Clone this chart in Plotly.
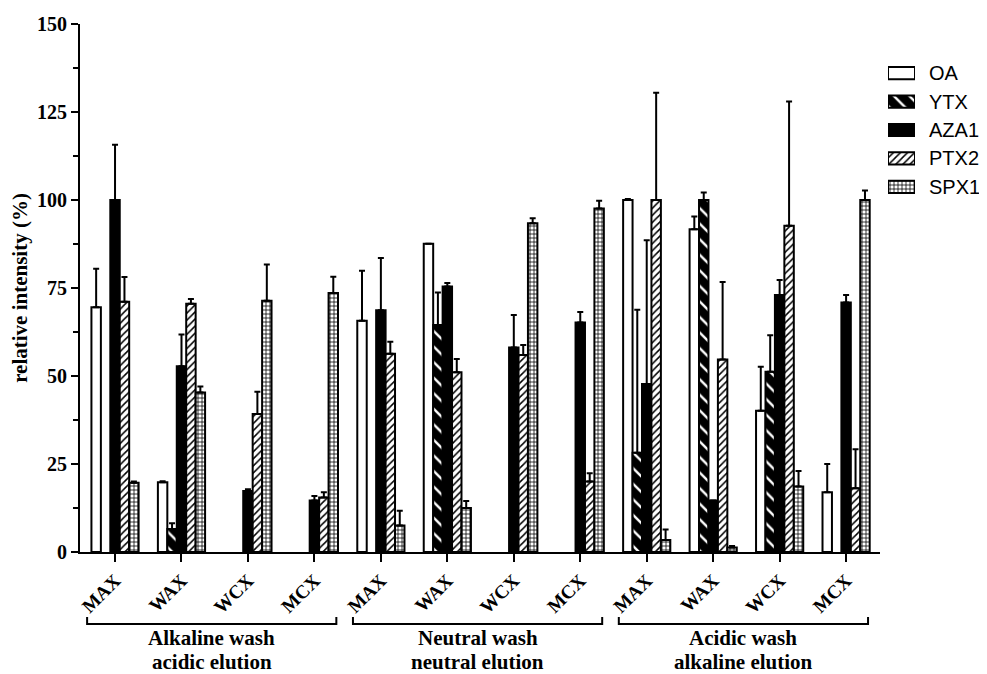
import plotly.graph_objects as go

# ---------------- data ----------------
sorbents = ["MAX", "WAX", "WCX", "MCX", "MAX", "WAX", "WCX", "MCX", "MAX", "WAX", "WCX", "MCX"]
conditions = [["Alkaline wash", "acidic elution"],
              ["Neutral wash", "neutral elution"],
              ["Acidic wash", "alkaline elution"]]
series_names = ["OA", "YTX", "AZA1", "PTX2", "SPX1"]

OA = [69.5, 19.8, None, None, 65.7, 87.6, None, None, 100.0, 91.7, 40.1, 17.0]
OA_err = [11.0, 0.3, 0, 0, 14.2, 0.0, 0, 0, 0.3, 3.6, 12.5, 8.0]
YTX = [None, 6.5, None, None, None, 64.5, None, None, 28.2, 100.0, 51.2, None]
YTX_err = [0, 1.7, 0, 0, 0, 9.2, 0, 0, 40.6, 2.1, 10.4, 0]
AZA1 = [100.0, 52.8, 17.3, 14.6, 68.7, 75.4, 58.1, 65.2, 47.7, 14.6, 73.0, 70.9]
AZA1_err = [15.7, 9.0, 0.5, 1.3, 14.8, 1.0, 9.2, 3.0, 40.9, 0.0, 4.3, 2.1]
PTX2 = [71.1, 70.5, 39.2, 15.5, 56.3, 51.1, 56.0, 20.0, 100.0, 54.7, 92.7, 18.1]
PTX2_err = [7.0, 1.4, 6.3, 1.5, 3.4, 3.7, 2.8, 2.4, 30.5, 22.0, 35.3, 11.1]
SPX1 = [19.7, 45.3, 71.4, 73.6, 7.5, 12.5, 93.4, 97.6, 3.4, 1.3, 18.6, 100.0]
SPX1_err = [0.3, 1.7, 10.3, 4.6, 4.2, 2.0, 1.4, 2.2, 3.0, 0.4, 4.4, 2.7]

y_ticks = [0, 25, 50, 75, 100, 125, 150]

# ---------------- styles ----------------
SERIF = "Liberation Serif"
SANS = "Liberation Sans"

styles = {
    "OA": dict(color="white", line=dict(color="black", width=2)),
    "YTX": dict(color="black", line=dict(color="black", width=2),
                pattern=dict(shape="\\", fgcolor="white", bgcolor="black", size=11, solidity=0.22, fillmode="replace")),
    "AZA1": dict(color="black", line=dict(color="black", width=2)),
    "PTX2": dict(color="white", line=dict(color="black", width=2),
                 pattern=dict(shape="/", fgcolor="black", bgcolor="white", size=5, solidity=0.3, fillmode="replace")),
    "SPX1": dict(color="white", line=dict(color="black", width=2),
                 pattern=dict(shape="+", fgcolor="black", bgcolor="white", size=4, solidity=0.35, fillmode="replace")),
}

values = {"OA": (OA, OA_err), "YTX": (YTX, YTX_err), "AZA1": (AZA1, AZA1_err),
          "PTX2": (PTX2, PTX2_err), "SPX1": (SPX1, SPX1_err)}

xpos = list(range(len(sorbents)))

fig = go.Figure()
for name in series_names:
    vals, errs = values[name]
    fig.add_trace(go.Bar(
        x=xpos, y=vals, name=name, marker=styles[name],
        error_y=dict(type="data", array=errs, arrayminus=[0] * len(errs), symmetric=False,
                     color="black", thickness=2, width=3),
        showlegend=False,
    ))

# legend swatches drawn as bars on a small hidden axis pair
for name in series_names:
    fig.add_trace(go.Bar(
        x=[1], y=[name], orientation="h", xaxis="x2", yaxis="y2", width=0.43,
        marker=styles[name], showlegend=False, hoverinfo="skip",
    ))

# page has an 8px body margin: figure coords = page coords - OFF
OFF = 8
W, H = 987 - OFF, 674 - OFF
L, R, T, B = 80 - OFF, 5, 24 - OFF, 674 - 552
pw = W - L - R
ph = H - T - B

def px_to_xpaper(px):  # px in page coordinates
    return (px - OFF - L) / pw

def py_to_ypaper(py):  # py in page coordinates
    return (H - B - (py - OFF)) / ph

x_range = [-0.527, 11.51]

fig.update_layout(
    width=W, height=H,
    margin=dict(l=L, r=R, t=T, b=B),
    paper_bgcolor="white", plot_bgcolor="white",
    barmode="group", bargap=0.29, bargroupgap=0,
    xaxis=dict(
        domain=[0, px_to_xpaper(880)], range=x_range,
        tickmode="array", tickvals=xpos, ticktext=sorbents, tickangle=-45,
        ticks="outside", ticklen=8, tickwidth=2, tickcolor="black",
        showline=True, linewidth=2, linecolor="black", showgrid=False, zeroline=False,
        tickfont=dict(family=SERIF, size=19, color="black", weight=700),
    ),
    yaxis=dict(
        range=[0, 150], tickmode="array", tickvals=y_ticks,
        ticks="outside", ticklen=7, tickwidth=2, tickcolor="black",
        minor=dict(dtick=12.5, tick0=0, ticks="outside", ticklen=5, tickwidth=2, tickcolor="black", showgrid=False),
        showline=True, linewidth=2, linecolor="black", showgrid=False, zeroline=False,
        tickfont=dict(family=SERIF, size=20, color="black", weight=700),
        title=dict(text="relative intensity (%)", standoff=6,
                   font=dict(family=SERIF, size=21, color="black", weight=700)),
    ),
    xaxis2=dict(domain=[px_to_xpaper(888), px_to_xpaper(915)], range=[0, 1], anchor="y2",
                visible=False, fixedrange=True),
    yaxis2=dict(domain=[py_to_ypaper(201), py_to_ypaper(59)], anchor="x2", side="right",
                type="category", categoryorder="array", categoryarray=series_names[::-1],
                showline=False, showgrid=False, zeroline=False, ticks="",
                ticklabelstandoff=13,
                tickfont=dict(family=SANS, size=20, color="black")),
)

# group brackets and labels
bracket_top = py_to_ypaper(617)
bracket_bot = py_to_ypaper(624)
line_centers = [638, 662]
n_per = 4
for g, lines in enumerate(conditions):
    x0 = g * n_per - 0.42
    x1 = g * n_per + (n_per - 1) + 0.33
    fig.add_shape(type="path",
                  path=f"M {x0},{bracket_top} L {x0},{bracket_bot} L {x1},{bracket_bot} L {x1},{bracket_top}",
                  xref="x", yref="paper", line=dict(color="black", width=2))
    for text, yc in zip(lines, line_centers):
        fig.add_annotation(x=(x0 + x1) / 2, y=py_to_ypaper(yc), xref="x", yref="paper",
                           text=text, showarrow=False, yanchor="middle", xanchor="center",
                           font=dict(family=SERIF, size=21, color="black", weight=700))

fig.write_html("out.html")
